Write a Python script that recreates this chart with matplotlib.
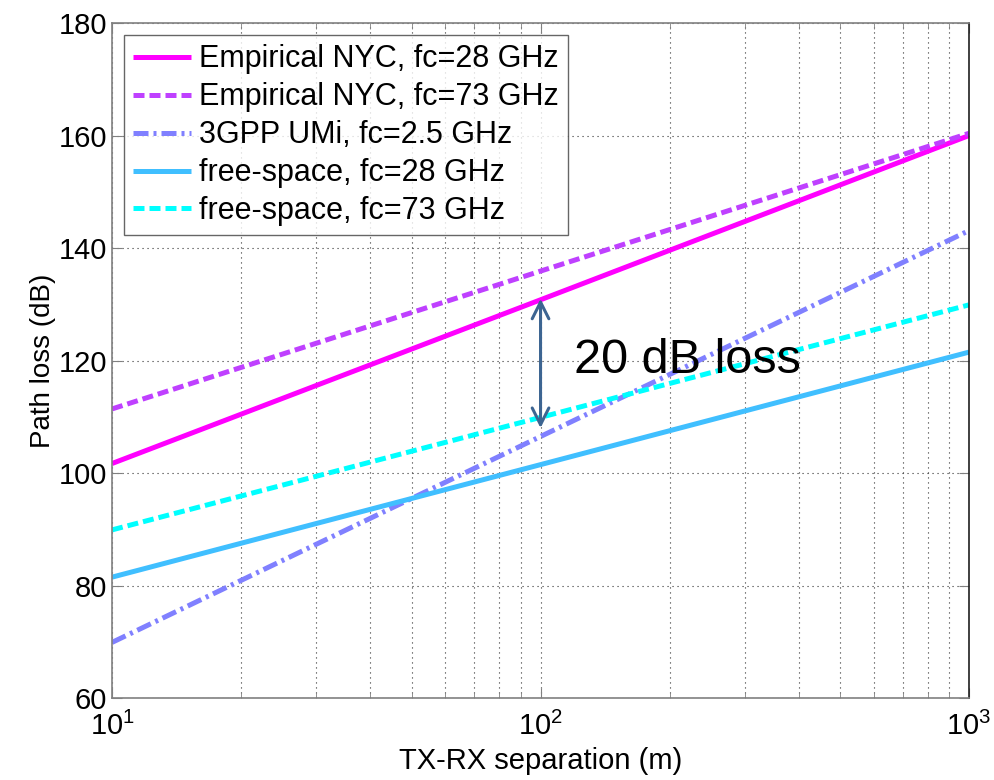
import matplotlib
matplotlib.use("Agg")
import matplotlib.pyplot as plt
from matplotlib.ticker import LogLocator, NullFormatter

plt.rcParams['font.family'] = ['Liberation Sans', 'DejaVu Sans']
plt.rcParams['mathtext.fontset'] = 'custom'
plt.rcParams['mathtext.rm'] = 'Liberation Sans'

# distances (m)
dist = [10, 100, 1000]
# path loss values (dB)
nyc28 = [101.7, 130.8, 160.0]
nyc73 = [111.4, 135.9, 160.4]
umi25 = [69.9, 106.5, 143.1]
fs28 = [81.5, 101.5, 121.5]
fs73 = [89.9, 109.9, 129.9]

labels = ['Empirical NYC, fc=28 GHz', 'Empirical NYC, fc=73 GHz',
          '3GPP UMi, fc=2.5 GHz', 'free-space, fc=28 GHz', 'free-space, fc=73 GHz']

arrow_x = 100
arrow_lo, arrow_hi = 108.0, 131.0
annot_text = '20 dB loss'
annot_pos = (120, 120)

fig = plt.figure(figsize=(9.95, 7.8), dpi=100)
ax = fig.add_axes([0.1126, 0.105, 0.8613, 0.8655])

lw = 3.6
ax.plot(dist, nyc28, color='#ff00ff', lw=lw, ls='-', label=labels[0], solid_capstyle='butt')
ax.plot(dist, nyc73, color='#bf40ff', lw=lw, ls=(0, (2.2, 1.0)), label=labels[1])
ax.plot(dist, umi25, color='#8080ff', lw=lw, ls=(0, (3.0, 1.0, 0.6, 1.0)), label=labels[2])
ax.plot(dist, fs28, color='#40bfff', lw=lw, ls='-', label=labels[3], solid_capstyle='butt')
ax.plot(dist, fs73, color='#00ffff', lw=lw, ls=(0, (2.2, 1.0)), label=labels[4])

ax.set_xscale('log')
ax.set_xlim(10, 1000)
ax.set_ylim(60, 180)
ax.set_yticks(range(60, 181, 20))
ax.xaxis.set_minor_locator(LogLocator(base=10, subs=range(2, 10)))
ax.xaxis.set_minor_formatter(NullFormatter())

ax.grid(True, which='major', axis='both', ls=(0, (1, 3.5)), color='#333333', lw=0.8)
ax.grid(True, which='minor', axis='x', ls=(0, (1, 3.5)), color='#333333', lw=0.8)

for s in ax.spines.values():
    s.set_color('#808080')
    s.set_linewidth(1.2)
ax.spines['right'].set_color('#202020')
ax.tick_params(axis='both', which='both', direction='in', color='#808080',
               labelsize=21, top=True, right=True)
ax.tick_params(axis='both', which='major', length=7)
ax.tick_params(axis='x', which='minor', length=4)
ax.tick_params(axis='x', which='major', pad=10)

ax.set_xlabel('TX-RX separation (m)', fontsize=21, labelpad=4)
ax.set_ylabel('Path loss (dB)', fontsize=20, labelpad=2)

ax.annotate('', xy=(arrow_x, arrow_hi), xytext=(arrow_x, arrow_lo),
            arrowprops=dict(arrowstyle='<->', color='#3d6592', lw=2.2,
                            mutation_scale=30, shrinkA=0, shrinkB=0))
ax.text(annot_pos[0], annot_pos[1], annot_text, fontsize=35, va='center', ha='left')

leg = ax.legend(loc='upper left', fontsize=22, frameon=True, fancybox=False,
                handlelength=1.9, borderaxespad=0.4, labelspacing=0.26,
                handletextpad=0.25, borderpad=0.3)
leg.get_frame().set_edgecolor('#404040')
leg.get_frame().set_linewidth(1.0)

fig.savefig('out.png', dpi=100)
